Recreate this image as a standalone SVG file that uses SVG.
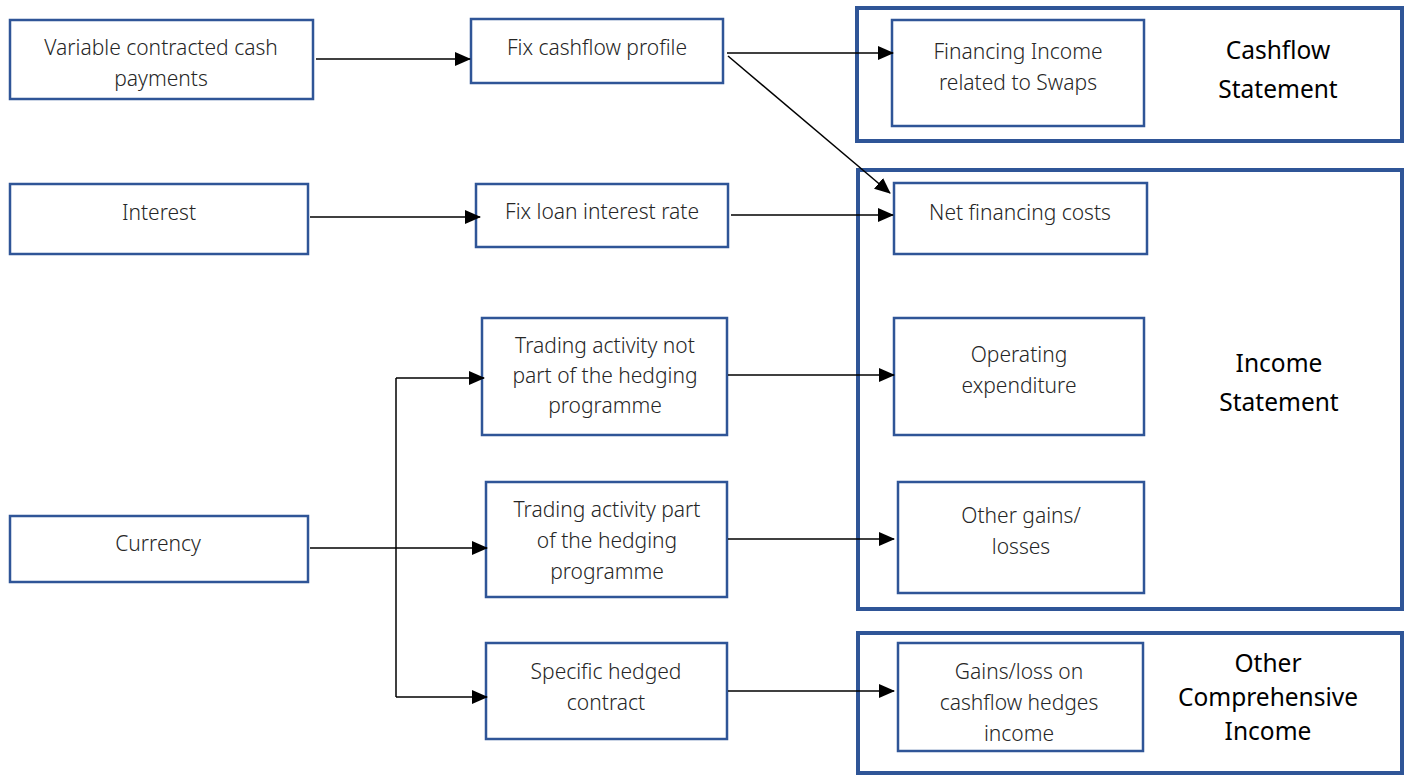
<svg xmlns="http://www.w3.org/2000/svg" width="1405" height="775" viewBox="0 0 1405 775">
<defs>
<style>
.node{fill:#fff;stroke:#2f5597;stroke-width:2.5}
.outer{fill:none;stroke:#2f5597;stroke-width:4}
.t{font-family:"Noto Sans","Open Sans",sans-serif;font-size:21px;font-weight:300;fill:#262626;text-anchor:middle;dominant-baseline:central}
.h{font-family:"Noto Sans","Open Sans",sans-serif;font-size:24.5px;fill:#000;text-anchor:middle;dominant-baseline:central}
.c{fill:none;stroke:#000;stroke-width:1.5}
</style>
<marker id="arr" markerUnits="userSpaceOnUse" markerWidth="16" markerHeight="14" refX="15" refY="7" orient="auto">
<path d="M0,0 L16,7 L0,14 Z" fill="#000"/>
</marker>
</defs>
<rect width="1405" height="775" fill="#fff"/>

<g id="group-cashflow">
<rect class="outer" x="857" y="8" width="545" height="133"/>
<text class="h" x="1278" y="49">Cashflow</text>
<text class="h" x="1278" y="88">Statement</text>
</g>
<g id="group-income">
<rect class="outer" x="858" y="170" width="544" height="439"/>
<text class="h" x="1279" y="362">Income</text>
<text class="h" x="1279" y="401">Statement</text>
</g>
<g id="group-oci">
<rect class="outer" x="858" y="633" width="544" height="140"/>
<text class="h" x="1268" y="662">Other</text>
<text class="h" x="1268" y="696">Comprehensive</text>
<text class="h" x="1268" y="730">Income</text>
</g>

<g id="n-variable">
<rect class="node" x="10" y="20" width="303" height="79"/>
<text class="t" x="161" y="47">Variable contracted cash</text>
<text class="t" x="161" y="78">payments</text>
</g>
<g id="n-interest">
<rect class="node" x="10" y="184" width="298" height="70"/>
<text class="t" x="159" y="212">Interest</text>
</g>
<g id="n-currency">
<rect class="node" x="10" y="516" width="298" height="66"/>
<text class="t" x="158" y="543">Currency</text>
</g>
<g id="n-fixcash">
<rect class="node" x="471" y="19" width="252" height="64"/>
<text class="t" x="597" y="47">Fix cashflow profile</text>
</g>
<g id="n-fixloan">
<rect class="node" x="476" y="184" width="252" height="63"/>
<text class="t" x="602" y="211">Fix loan interest rate</text>
</g>
<g id="n-tradenot">
<rect class="node" x="482" y="318" width="245" height="117"/>
<text class="t" x="605" y="345">Trading activity not</text>
<text class="t" x="605" y="375">part of the hedging</text>
<text class="t" x="605" y="405">programme</text>
</g>
<g id="n-tradepart">
<rect class="node" x="486" y="482" width="241" height="115"/>
<text class="t" x="607" y="509">Trading activity part</text>
<text class="t" x="607" y="540">of the hedging</text>
<text class="t" x="607" y="571">programme</text>
</g>
<g id="n-specific">
<rect class="node" x="486" y="643" width="241" height="96"/>
<text class="t" x="606" y="671">Specific hedged</text>
<text class="t" x="606" y="702">contract</text>
</g>
<g id="n-fininc">
<rect class="node" x="892" y="20" width="252" height="106"/>
<text class="t" x="1018" y="51">Financing Income</text>
<text class="t" x="1018" y="82">related to Swaps</text>
</g>
<g id="n-netfin">
<rect class="node" x="894" y="183" width="253" height="71"/>
<text class="t" x="1020" y="212">Net financing costs</text>
</g>
<g id="n-opex">
<rect class="node" x="894" y="318" width="250" height="117"/>
<text class="t" x="1019" y="354">Operating</text>
<text class="t" x="1019" y="385">expenditure</text>
</g>
<g id="n-othergains">
<rect class="node" x="898" y="482" width="246" height="111"/>
<text class="t" x="1021" y="515">Other gains/</text>
<text class="t" x="1021" y="546">losses</text>
</g>
<g id="n-gainsloss">
<rect class="node" x="898" y="643" width="245" height="108"/>
<text class="t" x="1019" y="671">Gains/loss on</text>
<text class="t" x="1019" y="702">cashflow hedges</text>
<text class="t" x="1019" y="733">income</text>
</g>

<g id="connectors">
<line class="c" x1="316" y1="59" x2="470" y2="59" marker-end="url(#arr)"/>
<line class="c" x1="310" y1="217" x2="480" y2="217" marker-end="url(#arr)"/>
<line class="c" x1="727" y1="53" x2="893" y2="53" marker-end="url(#arr)"/>
<line class="c" x1="728" y1="56" x2="890" y2="193" marker-end="url(#arr)"/>
<line class="c" x1="731" y1="215" x2="893" y2="215" marker-end="url(#arr)"/>
<line class="c" x1="396" y1="378" x2="396" y2="697"/>
<line class="c" x1="396" y1="378" x2="484" y2="378" marker-end="url(#arr)"/>
<line class="c" x1="310" y1="548" x2="487" y2="548" marker-end="url(#arr)"/>
<line class="c" x1="396" y1="697" x2="487" y2="697" marker-end="url(#arr)"/>
<line class="c" x1="728" y1="375" x2="894" y2="375" marker-end="url(#arr)"/>
<line class="c" x1="728" y1="539" x2="894" y2="539" marker-end="url(#arr)"/>
<line class="c" x1="728" y1="691" x2="894" y2="691" marker-end="url(#arr)"/>
</g>
</svg>
